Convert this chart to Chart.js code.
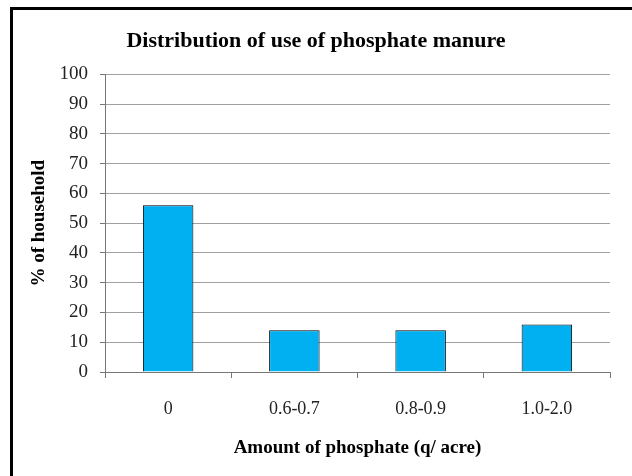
<!DOCTYPE html>
<html lang="en">
<head>
    <meta charset="UTF-8">
    <title>Distribution of use of phosphate manure</title>
    <script src="https://cdn.jsdelivr.net/npm/chart.js"></script>
    <style>
        html, body {
            margin: 0;
            padding: 0;
            background: white;
            overflow: hidden;
        }
        .frame {
            position: absolute;
            left: 0;
            top: 0;
            width: 632px;
            height: 476px;
        }
        .border-box {
            position: absolute;
            left: 10px;
            top: 7px;
            width: 700px;
            height: 600px;
            border-top: 3px solid #000;
            border-left: 3px solid #000;
            pointer-events: none;
        }
    </style>
</head>
<body>
    <div class="frame">
        <canvas id="chart" width="632" height="476"></canvas>
        <div class="border-box"></div>
    </div>

    <script>
        const categories = ['0', '0.6-0.7', '0.8-0.9', '1.0-2.0'];
        const householdPct = [56, 14, 14, 16];
        const yTicks = [0, 10, 20, 30, 40, 50, 60, 70, 80, 90, 100];

        const serif = "'Liberation Serif', 'Times New Roman', serif";

        new Chart(document.getElementById('chart'), {
            type: 'bar',
            data: {
                labels: categories,
                datasets: [{
                    data: householdPct,
                    backgroundColor: '#00B0F0',
                    borderColor: '#000',
                    borderWidth: 1,
                    barPercentage: 0.4,
                    categoryPercentage: 1.0
                }]
            },
            options: {
                responsive: false,
                animation: false,
                layout: {
                    padding: { left: 22, right: 22, top: 0, bottom: 0 }
                },
                plugins: {
                    legend: { display: false },
                    tooltip: { enabled: false },
                    title: {
                        display: true,
                        text: 'Distribution of use of phosphate manure',
                        color: '#000',
                        font: { family: serif, size: 22, weight: 'bold' },
                        padding: { top: 28, bottom: 20 }
                    }
                },
                scales: {
                    x: {
                        afterFit: (s) => { s.height = 104; },
                        grid: {
                            display: true,
                            offset: true,
                            drawOnChartArea: false,
                            drawTicks: true,
                            tickLength: 6,
                            tickColor: '#777'
                        },
                        border: { color: '#777', width: 1 },
                        ticks: {
                            color: '#222',
                            padding: 20,
                            font: { family: serif, size: 18 }
                        },
                        title: {
                            display: true,
                            text: 'Amount of phosphate (q/ acre)',
                            color: '#000',
                            font: { family: serif, size: 19, weight: 'bold' },
                            padding: { top: 0, bottom: 17 }
                        }
                    },
                    y: {
                        min: 0,
                        max: 100,
                        afterFit: (s) => { s.width = 83; },
                        afterBuildTicks: (s) => {
                            s.ticks = yTicks.map(v => ({ value: v }));
                        },
                        grid: {
                            color: '#a0a0a0',
                            lineWidth: 1,
                            tickLength: 5,
                            tickColor: '#777'
                        },
                        border: { color: '#777', width: 1 },
                        ticks: {
                            color: '#222',
                            padding: 12,
                            font: { family: serif, size: 19 }
                        },
                        title: {
                            display: true,
                            text: '% of household',
                            color: '#000',
                            font: { family: serif, size: 19, weight: 'bold' },
                            padding: { top: 6, bottom: 0 }
                        }
                    }
                }
            }
        });
    </script>
</body>
</html>
